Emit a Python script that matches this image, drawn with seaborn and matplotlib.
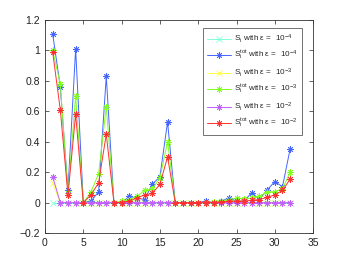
import numpy as np
import pandas as pd
import matplotlib
matplotlib.use("Agg")
import matplotlib.pyplot as plt
import seaborn as sns

# variable index
idx = list(range(1, 33))

# first order indices
si_e4 = [0.0] * 32
si_e3 = [0.13] + [0.0] * 31
si_e2 = [0.17] + [0.0] * 31

# total indices
stot_e4 = [1.11, 0.76, 0.08, 1.01, 0.0, 0.01, 0.07, 0.83, 0.0, 0.0,
           0.04, 0.03, 0.02, 0.12, 0.17, 0.53, 0.0, 0.0, 0.0, 0.0,
           0.01, 0.0, 0.01, 0.03, 0.01, 0.01, 0.066, 0.02, 0.083, 0.138,
           0.105, 0.353]
stot_e3 = [1.0, 0.78, 0.06, 0.70, 0.0, 0.07, 0.19, 0.63, 0.0, 0.01,
           0.02, 0.04, 0.08, 0.09, 0.16, 0.40, 0.0, 0.0, 0.0, 0.0,
           0.0, 0.005, 0.01, 0.02, 0.03, 0.025, 0.03, 0.04, 0.07, 0.072,
           0.09, 0.20]
stot_e2 = [0.99, 0.61, 0.05, 0.58, 0.0, 0.05, 0.13, 0.45, 0.0, 0.0,
           0.01, 0.03, 0.05, 0.06, 0.12, 0.30, 0.0, 0.0, 0.0, 0.0,
           0.0, 0.0, 0.005, 0.01, 0.01, 0.01, 0.015, 0.02, 0.035, 0.05,
           0.08, 0.154]

labels = [
    r"S$_\mathregular{i}$ with ε =  10$^{-4}$",
    r"S$_\mathregular{i}^\mathregular{tot}$ with ε =  10$^{-4}$",
    r"S$_\mathregular{i}$ with ε =  10$^{-3}$",
    r"S$_\mathregular{i}^\mathregular{tot}$ with ε =  10$^{-3}$",
    r"S$_\mathregular{i}$ with ε =  10$^{-2}$",
    r"S$_\mathregular{i}^\mathregular{tot}$ with ε =  10$^{-2}$",
]
series = [si_e4, stot_e4, si_e3, stot_e3, si_e2, stot_e2]
colors = ["#80ffd8", "#4466ff", "#ffff40", "#80ff20", "#c060ff", "#ff3030"]
markers = ["x", (8, 2, 0), "x", (8, 2, 0), (8, 2, 0), (8, 2, 0)]

sns.set_style("ticks")
plt.rcParams["font.family"] = ["Liberation Sans", "DejaVu Sans"]
plt.rcParams["mathtext.fontset"] = "custom"
plt.rcParams["mathtext.rm"] = "Liberation Sans"
plt.rcParams["mathtext.it"] = "Liberation Sans:italic"

fig = plt.figure(figsize=(3.46, 2.63), dpi=100)
ax = fig.add_axes([0.130, 0.114, 0.775, 0.810])

for lab, vals, c, m in zip(labels, series, colors, markers):
    df = pd.DataFrame({"x": idx, "y": vals})
    sns.lineplot(data=df, x="x", y="y", ax=ax, color=c, marker=m,
                 markersize=4.5, markeredgecolor=c, markeredgewidth=0.6,
                 markerfacecolor="none", linewidth=0.7, label=lab)

ax.set_xlim(0, 35)
ax.set_ylim(-0.2, 1.2)
ax.set_xticks(np.arange(0, 36, 5))
ax.set_yticks([-0.2, 0, 0.2, 0.4, 0.6, 0.8, 1, 1.2])
ax.set_yticklabels(["\u22120.2", "0", "0.2", "0.4", "0.6", "0.8", "1", "1.2"])
ax.set_xlabel("")
ax.set_ylabel("")
ax.tick_params(direction="in", length=3, width=0.5, labelsize=7.5,
               top=True, right=True, colors="#222222")
for s in ax.spines.values():
    s.set_linewidth(0.6)
    s.set_color("#333333")

leg = ax.legend(loc="upper right", fontsize=5.9, frameon=True, fancybox=False,
                edgecolor="#333333", handlelength=2.9, handletextpad=0.35,
                borderpad=0.55, labelspacing=0.5, borderaxespad=0,
                bbox_to_anchor=(0.959, 0.962))
leg.get_frame().set_linewidth(0.6)

fig.savefig("out.png", dpi=100)
